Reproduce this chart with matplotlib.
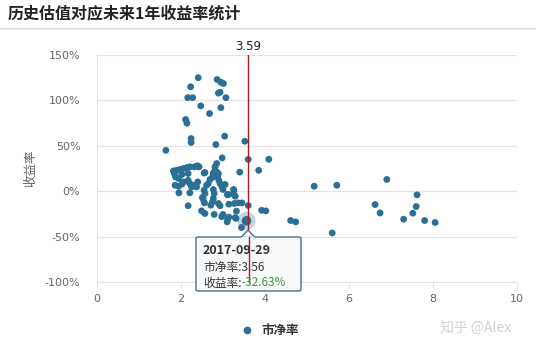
import numpy as np
import matplotlib
matplotlib.use("Agg")
import matplotlib.pyplot as plt
from matplotlib.patches import FancyBboxPatch, Polygon

plt.rcParams['font.family'] = ['Noto Sans CJK SC', 'DejaVu Sans']

# --- 数据: 市净率 (x) 与未来1年收益率 (%) ---
pb = [1.64, 2.41, 2.23, 2.16, 2.28, 2.47, 2.68, 2.86, 2.95, 3.01, 2.89, 2.93, 3.07, 2.95,
      2.14, 2.11, 2.24, 2.24, 2.83, 3.04, 3.52, 3.60, 4.09, 3.85, 2.98, 3.40,
      5.17, 5.71, 6.90, 7.62, 3.92, 4.02, 4.61, 4.73, 5.60, 6.62, 6.74, 7.30, 7.52, 7.60,
      7.80, 8.05,
      3.05, 3.25, 3.11, 3.29, 3.14, 3.27, 3.36, 3.45, 3.60, 3.32, 3.11, 3.14, 3.31, 3.44,
      2.40, 2.32, 2.37, 2.43, 2.21, 2.14, 2.06, 1.98, 1.90, 1.82, 1.84, 1.87, 1.94, 2.02,
      2.17, 2.57, 2.55, 2.85, 2.81, 2.79, 2.85, 2.89, 2.87, 2.81, 2.77, 2.77, 2.75,
      2.90, 2.93, 2.97, 3.00, 2.69, 2.65, 2.61, 2.40, 2.33, 2.37, 2.17, 2.21, 2.25,
      2.06, 2.02, 1.94, 1.86, 1.95, 2.21, 2.55, 2.57, 2.77, 2.79, 3.11, 3.26, 3.26,
      2.51, 2.77, 2.17, 2.53, 2.56, 2.71, 2.75, 2.89, 2.93, 2.49, 2.57, 2.79, 2.97,
      3.00, 3.10, 3.29, 3.12]
ret = [45, 125, 115, 103, 103, 94, 85.5, 123, 120, 118.6, 108, 109, 103, 92,
       75, 79, 58, 53.6, 51.4, 60.6, 55, 35, 35.2, 23, 36.7, 21,
       5.5, 6.6, 12.9, -4, -21, -21.7, -32.3, -33.8, -46, -14.7, -24, -30.8, -24.2, -16.9,
       -32.3, -34.5,
       7.4, 1.9, -4, -5.5, -14.3, -13.5, -12.9, -12.9, -15.8, -22, -31, -28.6, -30, -40,
       27.9, 26.8, 27.5, 26.8, 26.8, 26, 25, 23.9, 23, 22.4, 19.5, 15.7, 14, 18.4,
       19.5, 20.6, 20, 30.5, 26.8, 21.3, 21.3, 19.5, 16.5, 17.6, 15.7, 20, 15.7,
       12, 8.5, 5.5, 1.9, 12.9, 8.5, 6.6, 10.2, 6.6, 4.7, 12, 8.5, 4.7,
       10.2, 7.7, 5.5, 6.6, -1.8, -1.8, 1.1, -2.5, 1.9, -2.5, -3.6, 1.1, -3.6,
       -6.9, -8, -16, -9, -12.8, -15.4, -11.7, -13.5, -16, -21.7, -24.5, -25.6, -28,
       -25.6, -33.8, -29, -3.6]

# 当前估值线与高亮点
current_pb = 3.59
hl_date = '2017-09-29'
hl_pb = 3.56
hl_ret = -32.63

x_ticks = [0, 2, 4, 6, 8, 10]
y_ticks = [-100, -50, 0, 50, 100, 150]

W, H = 536, 351
fig = plt.figure(figsize=(W / 100, H / 100), dpi=100)

def fx(px):
    return px / W

def fy(py):
    return 1 - py / H

ax = fig.add_axes([fx(97), fy(282), fx(517) - fx(97), fy(55) - fy(282)])
dot = '#2a6f96'
grid = '#e3e3e3'

ax.scatter(pb, ret, s=24, color=dot, edgecolors='none', zorder=3)
# 高亮点
ax.scatter([hl_pb], [hl_ret], s=170, color='#c5d6e3', edgecolors='none', zorder=2)
ax.scatter([hl_pb], [hl_ret], s=48, color=dot, edgecolors='none', zorder=4)

ax.axvline(current_pb, color='#a81c1c', lw=1.0, zorder=6)
ax.text(current_pb, 152, f'{current_pb:.2f}', ha='center', va='bottom', fontsize=8.5,
        color='#222222', family=['DejaVu Sans'])

ax.set_xlim(0, 10)
ax.set_ylim(-100, 150)
ax.set_xticks(x_ticks)
ax.set_yticks(y_ticks)
ax.set_yticklabels([f'{v}%' for v in y_ticks])
ax.grid(axis='y', color=grid, lw=0.9)
ax.set_axisbelow(True)
for s in ['top', 'right']:
    ax.spines[s].set_visible(False)
for s in ['left', 'bottom']:
    ax.spines[s].set_color(grid)
ax.tick_params(axis='y', length=0, pad=12, labelsize=8, labelcolor='#666666')
ax.tick_params(axis='x', length=4, color=grid, pad=5, labelsize=8, labelcolor='#666666')
for t in ax.get_xticklabels() + ax.get_yticklabels():
    t.set_family(['DejaVu Sans'])

fig.text(fx(31), fy(168), '收益率', rotation=90, ha='center', va='center',
         fontsize=9, color='#666666')

# 标题
fig.text(fx(8), fy(13), '历史估值对应未来1年收益率统计', ha='left', va='center',
         fontsize=11.5, fontweight='bold', color='#222222')
fig.add_artist(plt.Line2D([0, 1], [fy(28), fy(28)], color='#d8d8d8', lw=1))

# 提示框
box = FancyBboxPatch((fx(196), fy(291)), fx(301) - fx(196), fy(237) - fy(291),
                     boxstyle='round,pad=0,rounding_size=0.004', transform=fig.transFigure,
                     facecolor='#f7f9fb', edgecolor='#4f6f85', lw=1.0, zorder=5)
fig.add_artist(box)
tri = Polygon([[fx(241), fy(237.5)], [fx(248), fy(230)], [fx(255), fy(237.5)]],
              closed=True, transform=fig.transFigure, facecolor='#f7f9fb',
              edgecolor='#4f6f85', lw=1.0, zorder=5)
fig.add_artist(tri)
fig.add_artist(plt.Line2D([fx(241.8), fx(254.2)], [fy(237.5), fy(237.5)],
                          color='#f7f9fb', lw=1.4, zorder=5.5))
fig.text(fx(203), fy(250), hl_date, fontsize=9, fontweight='bold', color='#333333',
         va='center', zorder=7)
fig.text(fx(203), fy(267), f'市净率:{hl_pb:.2f}', fontsize=8.5, color='#333333',
         va='center', zorder=7)
t1 = fig.text(fx(203), fy(283), '收益率:', fontsize=8.5, color='#333333', va='center', zorder=7)
fig.text(fx(241), fy(283), f'{hl_ret:.2f}%', fontsize=8.5, color='#3a9a3a', va='center', zorder=7)
# 红线穿过提示框
fig.add_artist(plt.Line2D([fx(248.5), fx(248.5)], [fy(237), fy(282)], color='#a81c1c',
                          lw=1.0, zorder=6))

# 图例与水印
fig.add_artist(plt.Line2D([fx(247)], [fy(330)], marker='o', markersize=4.5, color=dot, lw=0))
fig.text(fx(261), fy(330), '市净率', fontsize=9, color='#333333', fontweight='bold', va='center')
fig.text(fx(440), fy(329), '知乎 @Alex', fontsize=10, color='#cfcfcf', va='center')

fig.savefig('out.png', dpi=100)
